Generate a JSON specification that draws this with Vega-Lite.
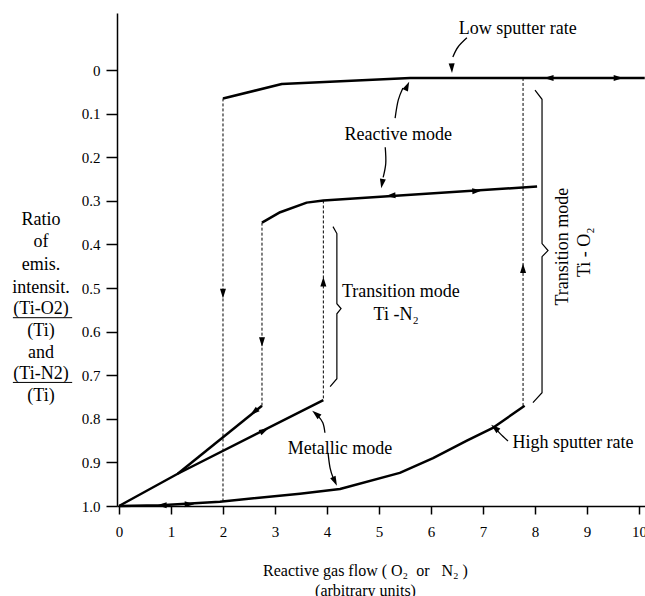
{
  "$schema": "https://vega.github.io/schema/vega-lite/v6.json",
  "width": 528,
  "height": 493,
  "autosize": {"type": "none"},
  "padding": {"left": 117, "top": 13, "right": 0, "bottom": 90},
  "background": "white",
  "config": {
    "view": {"stroke": null},
    "font": "Liberation Serif",
    "axis": {
      "domainColor": "black", "domainWidth": 1.5, "tickColor": "black", "tickWidth": 1.5,
      "labelColor": "black", "labelFont": "Liberation Serif", "labelFontSize": 15,
      "titleFont": "Liberation Serif", "titleColor": "black", "grid": false,
      "labelFlush": false, "labelOverlap": false
    }
  },
  "datasets": {
    "curves": [
      {"g": "o2r", "i": 1, "x": 2.0, "y": 0.065},
      {"g": "o2r", "i": 2, "x": 3.13, "y": 0.032},
      {"g": "o2r", "i": 3, "x": 5.6, "y": 0.018},
      {"g": "o2r", "i": 4, "x": 10.11, "y": 0.018},
      {"g": "n2r", "i": 1, "x": 2.75, "y": 0.35},
      {"g": "n2r", "i": 2, "x": 3.1, "y": 0.326},
      {"g": "n2r", "i": 3, "x": 3.61, "y": 0.304},
      {"g": "n2r", "i": 4, "x": 3.93, "y": 0.299},
      {"g": "n2r", "i": 5, "x": 8.04, "y": 0.267},
      {"g": "n2m1", "i": 1, "x": 0, "y": 1.0},
      {"g": "n2m1", "i": 2, "x": 1.13, "y": 0.926},
      {"g": "n2m1", "i": 3, "x": 3.93, "y": 0.757},
      {"g": "n2m2", "i": 1, "x": 1.13, "y": 0.926},
      {"g": "n2m2", "i": 2, "x": 2.75, "y": 0.77},
      {"g": "o2m", "i": 1, "x": 0, "y": 1.0},
      {"g": "o2m", "i": 2, "x": 0.8, "y": 0.998},
      {"g": "o2m", "i": 3, "x": 1.94, "y": 0.99},
      {"g": "o2m", "i": 4, "x": 3.48, "y": 0.972},
      {"g": "o2m", "i": 5, "x": 4.25, "y": 0.961},
      {"g": "o2m", "i": 6, "x": 5.4, "y": 0.924},
      {"g": "o2m", "i": 7, "x": 6.04, "y": 0.89},
      {"g": "o2m", "i": 8, "x": 6.69, "y": 0.85},
      {"g": "o2m", "i": 9, "x": 7.2, "y": 0.82},
      {"g": "o2m", "i": 10, "x": 7.8, "y": 0.77}
    ],
    "dashed": [
      {"g": "d1", "x": 2.0, "y": 0.065}, {"g": "d1", "x": 2.0, "y": 0.99},
      {"g": "d2", "x": 2.75, "y": 0.35}, {"g": "d2", "x": 2.75, "y": 0.77},
      {"g": "d3", "x": 3.93, "y": 0.299}, {"g": "d3", "x": 3.93, "y": 0.757},
      {"g": "d4", "x": 7.77, "y": 0.018}, {"g": "d4", "x": 7.77, "y": 0.77}
    ],
    "pointers": [
      {"g": "p1", "i": 1, "x": 6.69, "y": -0.074}, {"g": "p1", "i": 2, "x": 6.52, "y": -0.053}, {"g": "p1", "i": 3, "x": 6.42, "y": -0.03},
      {"g": "p2", "i": 1, "x": 5.31, "y": 0.11}, {"g": "p2", "i": 2, "x": 5.37, "y": 0.069}, {"g": "p2", "i": 3, "x": 5.46, "y": 0.041},
      {"g": "p3", "i": 1, "x": 5.12, "y": 0.177}, {"g": "p3", "i": 2, "x": 5.13, "y": 0.214}, {"g": "p3", "i": 3, "x": 5.08, "y": 0.246},
      {"g": "p4", "i": 1, "x": 3.96, "y": 0.832}, {"g": "p4", "i": 2, "x": 3.92, "y": 0.809}, {"g": "p4", "i": 3, "x": 3.82, "y": 0.792},
      {"g": "p5", "i": 1, "x": 4.02, "y": 0.878}, {"g": "p5", "i": 2, "x": 4.06, "y": 0.913}, {"g": "p5", "i": 3, "x": 4.12, "y": 0.936},
      {"g": "p6", "i": 1, "x": 7.48, "y": 0.851}, {"g": "p6", "i": 2, "x": 7.33, "y": 0.834}, {"g": "p6", "i": 3, "x": 7.25, "y": 0.823}
    ],
    "braces": [
      {"g": "b1", "i": 1, "x": 4.115, "y": 0.359},
      {"g": "b1", "i": 2, "x": 4.19, "y": 0.375},
      {"g": "b1", "i": 3, "x": 4.19, "y": 0.536},
      {"g": "b1", "i": 4, "x": 4.27, "y": 0.547},
      {"g": "b1", "i": 5, "x": 4.19, "y": 0.559},
      {"g": "b1", "i": 6, "x": 4.19, "y": 0.708},
      {"g": "b1", "i": 7, "x": 4.06, "y": 0.726},
      {"g": "b2", "i": 1, "x": 8.0, "y": 0.046},
      {"g": "b2", "i": 2, "x": 8.135, "y": 0.067},
      {"g": "b2", "i": 3, "x": 8.135, "y": 0.398},
      {"g": "b2", "i": 4, "x": 8.25, "y": 0.414},
      {"g": "b2", "i": 5, "x": 8.135, "y": 0.428},
      {"g": "b2", "i": 6, "x": 8.135, "y": 0.74},
      {"g": "b2", "i": 7, "x": 7.96, "y": 0.763}
    ],
    "heads": [
      {"x": 2.0, "y": 0.512, "h": 180},
      {"x": 2.75, "y": 0.623, "h": 180},
      {"x": 3.93, "y": 0.486, "h": 0},
      {"x": 7.77, "y": 0.455, "h": 0},
      {"x": 8.27, "y": 0.018, "h": 270},
      {"x": 9.6, "y": 0.018, "h": 90},
      {"x": 5.23, "y": 0.288, "h": 266},
      {"x": 6.88, "y": 0.277, "h": 86},
      {"x": 2.6, "y": 0.784, "h": 231},
      {"x": 2.79, "y": 0.827, "h": 63},
      {"x": 0.83, "y": 0.998, "h": 270},
      {"x": 1.35, "y": 0.996, "h": 90},
      {"x": 6.4, "y": -0.005, "h": 178},
      {"x": 5.54, "y": 0.037, "h": 25},
      {"x": 5.06, "y": 0.26, "h": 190},
      {"x": 3.79, "y": 0.789, "h": 310},
      {"x": 4.15, "y": 0.943, "h": 155},
      {"x": 7.23, "y": 0.821, "h": 310}
    ],
    "ann": [
      {"t": "Low sputter rate", "x": 7.67, "y": -0.094},
      {"t": "Reactive mode", "x": 5.37, "y": 0.149},
      {"t": "Transition mode", "x": 5.42, "y": 0.51},
      {"t": "Ti -N₂", "x": 5.33, "y": 0.561},
      {"t": "Metallic mode", "x": 4.25, "y": 0.869},
      {"t": "High sputter rate", "x": 8.73, "y": 0.855}
    ],
    "rot": [
      {"t": "Transition mode", "x": 8.54, "y": 0.405},
      {"t": "Ti - O₂", "x": 8.96, "y": 0.418}
    ],
    "ytitle": [
      {"t": "Ratio", "x": -1.5, "y": 0.345},
      {"t": "of", "x": -1.5, "y": 0.395},
      {"t": "emis.", "x": -1.5, "y": 0.448},
      {"t": "intensit.", "x": -1.5, "y": 0.499},
      {"t": "(Ti-O2)", "x": -1.5, "y": 0.547},
      {"t": "(Ti)", "x": -1.5, "y": 0.598},
      {"t": "and", "x": -1.5, "y": 0.648},
      {"t": "(Ti-N2)", "x": -1.5, "y": 0.697},
      {"t": "(Ti)", "x": -1.5, "y": 0.747}
    ],
    "underlines": [
      {"x": -2.04, "x2": -0.9, "y": 0.568},
      {"x": -2.04, "x2": -0.9, "y": 0.7165}
    ]
  },
  "encoding": {
    "x": {
      "field": "x", "type": "quantitative",
      "scale": {"domain": [-0.038, 10.115], "nice": false, "zero": false},
      "axis": {
        "values": [0, 1, 2, 3, 4, 5, 6, 7, 8, 9, 10], "format": "d",
        "tickSize": 8, "labelPadding": 10,
        "title": ["Reactive gas flow ( O₂\u00a0\u00a0or\u00a0\u00a0\u00a0N₂\u00a0)", "(arbitrary units)"],
        "titleFontSize": 16, "titleFontWeight": "normal", "titleLineHeight": 20,
        "titleBaseline": "alphabetic", "titleAlign": "center", "titleX": 248, "titleY": 69
      }
    },
    "y": {
      "field": "y", "type": "quantitative",
      "scale": {"domain": [-0.131, 1.0], "nice": false, "zero": false, "reverse": true},
      "axis": {
        "values": [0, 0.1, 0.2, 0.3, 0.4, 0.5, 0.6, 0.7, 0.8, 0.9, 1.0],
        "labelExpr": "datum.value == 0 ? '0' : format(datum.value, '.1f')",
        "tickSize": 11, "labelPadding": 6, "title": null
      }
    }
  },
  "layer": [
    {
      "data": {"name": "dashed"},
      "mark": {"type": "line", "color": "black", "strokeWidth": 1, "strokeDash": [3, 2]},
      "encoding": {"detail": {"field": "g"}, "order": {"field": "y"}}
    },
    {
      "data": {"name": "curves"},
      "mark": {"type": "line", "color": "black", "strokeWidth": 2.5, "strokeJoin": "round"},
      "encoding": {"detail": {"field": "g"}, "order": {"field": "i"}}
    },
    {
      "data": {"name": "pointers"},
      "mark": {"type": "line", "color": "black", "strokeWidth": 1.3, "interpolate": "cardinal"},
      "encoding": {"detail": {"field": "g"}, "order": {"field": "i"}}
    },
    {
      "data": {"name": "braces"},
      "mark": {"type": "line", "color": "black", "strokeWidth": 1.2},
      "encoding": {"detail": {"field": "g"}, "order": {"field": "i"}}
    },
    {
      "data": {"name": "heads"},
      "mark": {"type": "point", "shape": "M0,-1L0.6,0.9L-0.6,0.9Z", "filled": true, "color": "black", "opacity": 1, "size": 100, "strokeWidth": 0},
      "encoding": {"angle": {"field": "h", "type": "quantitative", "scale": null}}
    },
    {
      "data": {"name": "ann"},
      "mark": {"type": "text", "fontSize": 18, "align": "center", "baseline": "middle", "color": "black"},
      "encoding": {"text": {"field": "t"}}
    },
    {
      "data": {"name": "rot"},
      "mark": {"type": "text", "fontSize": 18, "align": "center", "baseline": "middle", "color": "black", "angle": 270},
      "encoding": {"text": {"field": "t"}}
    },
    {
      "data": {"name": "ytitle"},
      "mark": {"type": "text", "fontSize": 18, "align": "center", "baseline": "middle", "color": "black"},
      "encoding": {"text": {"field": "t"}}
    },
    {
      "data": {"name": "underlines"},
      "mark": {"type": "rule", "color": "black", "strokeWidth": 1},
      "encoding": {"x2": {"field": "x2"}}
    }
  ]
}
